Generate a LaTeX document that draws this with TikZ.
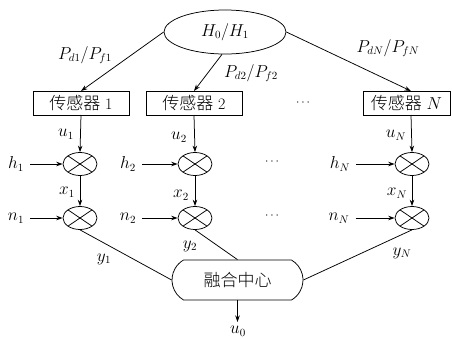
\documentclass[tikz,border=0pt]{standalone}
\usepackage{fontspec}
\newfontfamily\cjk{Noto Sans CJK SC}[UprightFont=* Light]
\usetikzlibrary{shapes.geometric,shapes.misc,arrows.meta}

\begin{document}
\begin{tikzpicture}[x=1pt,y=-1pt,
  font=\fontsize{16}{19}\selectfont,
  line width=0.75pt,
  >={Stealth[length=6.5pt,width=4.5pt]},
  hyp/.style={draw, ellipse, minimum width=122pt, minimum height=44pt, inner sep=0pt},
  sensor/.style={draw, rectangle, minimum width=96pt, minimum height=24pt, inner sep=0pt},
  mult/.style={draw, ellipse, minimum width=34pt, minimum height=23pt, inner sep=0pt,
    path picture={
      \draw (path picture bounding box.north west) -- (path picture bounding box.south east);
      \draw (path picture bounding box.south west) -- (path picture bounding box.north east);
    }},
  fusion/.style={draw, rounded rectangle, rounded rectangle arc length=120,
    minimum width=131pt, minimum height=40pt, inner sep=0pt},
  lbl/.style={inner sep=0pt},
  dots/.style={inner sep=0pt, font=\fontsize{13}{15}\selectfont},
  zh/.style={font=\cjk\fontsize{17}{19}\selectfont}
]
\useasboundingbox (0,0) rectangle (452,338);

% hypothesis
\node[hyp] (H) at (225,32) {$H_0/H_1$};

% local sensors
\node[sensor] (s1) at (81,103) {{\cjk\fontsize{17}{19}\selectfont 传感器} 1};
\node[sensor] (s2) at (194,103) {{\cjk\fontsize{17}{19}\selectfont 传感器} 2};
\node[sensor, minimum width=87pt] (sN) at (406.5,103) {{\cjk\fontsize{17}{19}\selectfont 传感器} $N$};
\node[dots] (d0) at (303,103) {$\cdots$};

\coordinate (t1) at (81,91);
\coordinate (t2) at (194,91);
\coordinate (tN) at (411,91);
\coordinate (b1) at (81,115);
\coordinate (b2) at (194,115);
\coordinate (bN) at (411,115);

\draw[->] (H.west) -- (t1);
\draw[->] (H.south) ++(-3,0) coordinate (hs) -- (t2);
\draw[->] (H.east) -- (tN);
\node[lbl] (p1) at (85,55) {$P_{d1}/P_{f1}$};
\node[lbl] (p2) at (251,73) {$P_{d2}/P_{f2}$};
\node[lbl] (pN) at (388,48) {$P_{dN}/P_{fN}$};

% channel gains
\node[mult] (g1) at (80,164) {};
\node[mult] (g2) at (195,164) {};
\node[mult] (gN) at (412,164) {};
\node[dots] (d1) at (272,162) {$\cdots$};

% additive noise
\node[mult] (a1) at (80,218) {};
\node[mult] (a2) at (195,218) {};
\node[mult] (aN) at (412,218) {};
\node[dots] (d2) at (272,216) {$\cdots$};

\draw[->] (b1) -- (g1.north);
\draw[->] (b2) -- (g2.north);
\draw[->] (bN) -- (gN.north);
\node[lbl] (u1) at (66,134) {$u_1$};
\node[lbl] (u2) at (179,137) {$u_2$};
\node[lbl] (uN) at (396,135) {$u_N$};

\node[lbl] (h1) at (16,164) {$h_1$};
\node[lbl] (h2) at (128,164) {$h_2$};
\node[lbl] (hN) at (340,164) {$h_N$};
\draw[->] (h1.east) ++(6,0) -- (g1.west);
\draw[->] (h2.east) ++(6,0) -- (g2.west);
\draw[->] (hN.east) ++(6,0) -- (gN.west);

\draw[->] (g1.south) -- (a1.north);
\draw[->] (g2.south) -- (a2.north);
\draw[->] (gN.south) -- (aN.north);
\node[lbl] (x1) at (67,192) {$x_1$};
\node[lbl] (x2) at (181,195) {$x_2$};
\node[lbl] (xN) at (397,193) {$x_N$};

\node[lbl] (n1) at (16,218) {$n_1$};
\node[lbl] (n2) at (128,218) {$n_2$};
\node[lbl] (nN) at (339,218) {$n_N$};
\draw[->] (n1.east) ++(6,0) -- (a1.west);
\draw[->] (n2.east) ++(6,0) -- (a2.west);
\draw[->] (nN.east) ++(6,0) -- (aN.west);

% fusion centre
\node[fusion, zh] (F) at (237.5,280) {融合中心};
\draw (a1.south) -- (F.west);
\draw (a2.south) -- (F.north);
\draw (aN.south) -- (F.east);
\node[lbl] (y1) at (104,259) {$y_1$};
\node[lbl] (y2) at (190,246) {$y_2$};
\node[lbl] (yN) at (402,253) {$y_N$};

\coordinate (o) at (237.5,322);
\draw[->] (F.south) -- (o);
\node[lbl] (u0) at (238,331) {$u_0$};
\end{tikzpicture}
\end{document}
